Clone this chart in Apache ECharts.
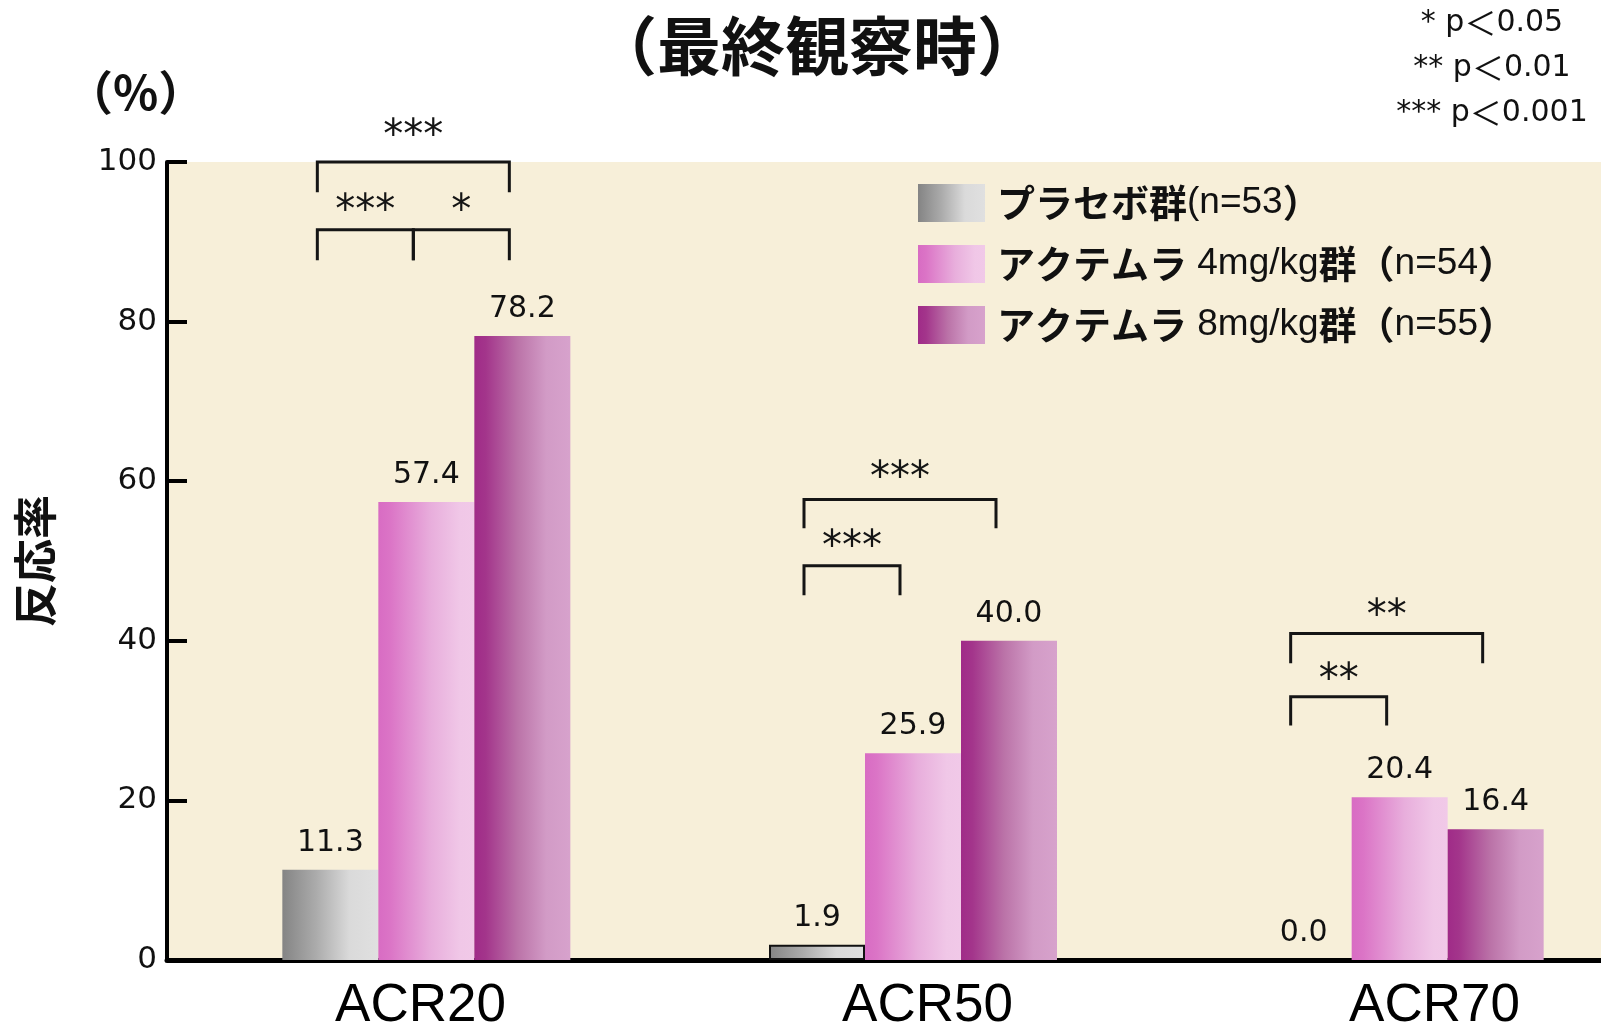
<!DOCTYPE html>
<html>
<head>
<meta charset="utf-8">
<script src="https://cdn.jsdelivr.net/npm/echarts@6/dist/echarts.min.js"></script>
<style>
  html, body { margin: 0; padding: 0; background: #ffffff; }
  #chart { width: 1601px; height: 1032px; }
</style>
</head>
<body>
<div id="chart"></div>
<script>
// ---- data ----
const categories = ['ACR20', 'ACR50', 'ACR70'];
const groupNames = ['プラセボ群(n=53）', 'アクテムラ 4mg/kg群（n=54）', 'アクテムラ 8mg/kg群（n=55）'];
const placeboValues = [11.3, 1.9, 0.0];
const tcz4Values = [57.4, 25.9, 20.4];
const tcz8Values = [78.2, 40.0, 16.4];
const yTicks = [0, 20, 40, 60, 80, 100];
// significance brackets: [category, from group, to group, leg end %, bar %, stars centre %]
const sigBrackets = [
  [0, 0, 2, 96.2, 100.0, 104.3],
  [0, 0, 1, 87.7, 91.5, 94.9],
  [0, 1, 2, 87.7, 91.5, 94.9],
  [1, 0, 2, 54.1, 57.7, 61.4],
  [1, 0, 1, 45.7, 49.4, 52.8],
  [2, 0, 2, 37.2, 40.9, 44.2],
  [2, 0, 1, 29.4, 33.0, 36.2]
];
const sigStars = ['***', '***', '*', '***', '***', '**', '**'];
const pValueStars = ['*', '**', '***'];
const pValueLimits = ['0.05', '0.01', '0.001'];

// ---- styling ----
const BAR_W = 96;
const BRACKET_SHIFT = -13;
const LATIN = '"Liberation Sans", Arial, sans-serif';
const WIDE = '"DejaVu Sans", sans-serif';
const CJK = '"Noto Sans CJK JP", "Noto Sans", sans-serif';

function hGrad(stops) {
  return new echarts.graphic.LinearGradient(0, 0, 1, 0,
    stops.map(s => ({ offset: s[0], color: s[1] })));
}
const fills = [
  hGrad([[0, '#848484'], [0.35, '#ababab'], [0.7, '#dadada'], [1, '#e0e0e0']]),
  hGrad([[0, '#d86cc3'], [0.12, '#db74c6'], [0.55, '#e8aedc'], [0.85, '#f0c7e7'], [1, '#f1c9e8']]),
  hGrad([[0, '#a02b88'], [0.12, '#a3358b'], [0.45, '#bb73a8'], [0.75, '#d29bc6'], [1, '#d7a2cc']])
];

const chart = echarts.init(document.getElementById('chart'), null, { renderer: 'canvas' });

const valueLabel = {
  show: true,
  position: 'top',
  distance: 12,
  color: '#111',
  fontFamily: WIDE,
  fontSize: 30,
  formatter: p => Number(p.value).toFixed(1)
};

function barSeries(idx, values) {
  return {
    type: 'bar',
    name: groupNames[idx],
    xAxisIndex: 1,
    yAxisIndex: 1,
    barWidth: BAR_W,
    barGap: '0%',
    itemStyle: { color: fills[idx] },
    label: valueLabel,
    data: values.map(v => v)
  };
}

const series = [
  barSeries(0, placeboValues),
  barSeries(1, tcz4Values),
  barSeries(2, tcz8Values),
  {
    type: 'custom',
    xAxisIndex: 1,
    yAxisIndex: 1,
    z: 5,
    clip: false,
    encode: { x: 0, y: 4 },
    data: sigBrackets,
    renderItem: (params, api) => {
      const b = sigBrackets[params.dataIndex];
      const c = api.coord([b[0], 0])[0];
      const xa = c + (b[1] - 1) * BAR_W + BRACKET_SHIFT;
      const xb = c + (b[2] - 1) * BAR_W + BRACKET_SHIFT;
      const yTop = api.coord([b[0], b[4]])[1];
      const yLeg = api.coord([b[0], b[3]])[1];
      const yStar = api.coord([b[0], b[5]])[1];
      return {
        type: 'group',
        children: [
          {
            type: 'polyline',
            shape: { points: [[xa, yLeg], [xa, yTop], [xb, yTop], [xb, yLeg]] },
            style: { stroke: '#151515', lineWidth: 3, fill: null }
          },
          {
            type: 'text',
            x: (xa + xb) / 2,
            y: yStar + 10,
            style: {
              text: sigStars[params.dataIndex],
              font: '40px "DejaVu Sans", sans-serif',
              fill: '#151515',
              align: 'center',
              verticalAlign: 'middle'
            }
          }
        ]
      };
    }
  }
];

// placebo ACR50 bar is outlined
series[0].data[1] = { value: placeboValues[1], itemStyle: { borderColor: '#111', borderWidth: 2 } };

const cjkRe = /([\u3000-\u30ff\u4e00-\u9fff\uff00-\uffef]+)/;

chart.setOption({
  backgroundColor: '#ffffff',
  animation: false,
  title: {
    text: '（最終観察時）',
    left: 812,
    top: 9,
    textAlign: 'center',
    textStyle: { fontFamily: CJK, fontWeight: 'bold', fontSize: 64, color: '#111' }
  },
  legend: {
    data: groupNames,
    orient: 'vertical',
    left: 913,
    top: 179,
    icon: 'rect',
    itemWidth: 67,
    itemHeight: 38,
    itemGap: 23,
    selectedMode: false,
    formatter: name => name.split(cjkRe).filter(s => s).map(s =>
      cjkRe.test(s) ? '{j|' + s + '}' : '{l|' + s + '}').join(''),
    textStyle: {
      padding: [0, 0, 0, 7],
      rich: {
        j: { fontFamily: CJK, fontWeight: 'bold', fontSize: 38, color: '#111', lineHeight: 38 },
        l: { fontFamily: LATIN, fontSize: 37, color: '#111', lineHeight: 38 }
      }
    }
  },
  grid: [
    { left: 167, right: -87, top: 162, bottom: 72, show: true, backgroundColor: '#f7efd9', borderWidth: 0, outerBoundsMode: 'none', containLabel: false },
    { left: 183, right: -42, top: 162, bottom: 72, outerBoundsMode: 'none', containLabel: false }
  ],
  xAxis: [
    {
      type: 'category',
      gridIndex: 0,
      data: categories,
      axisLine: { show: true, lineStyle: { color: '#000', width: 5 } },
      axisTick: { show: false },
      axisLabel: { color: '#000', fontFamily: LATIN, fontSize: 53, margin: 20 }
    },
    {
      type: 'category',
      gridIndex: 1,
      data: categories,
      show: false
    }
  ],
  yAxis: [
    {
      type: 'value',
      gridIndex: 0,
      min: yTicks[0],
      max: yTicks[yTicks.length - 1],
      interval: yTicks[1] - yTicks[0],
      name: '反応率',
      nameLocation: 'middle',
      nameRotate: 90,
      nameGap: 110,
      nameTextStyle: { fontFamily: CJK, fontWeight: 'bold', fontSize: 44, color: '#111' },
      axisLine: { show: true, lineStyle: { color: '#000', width: 4 } },
      axisTick: { show: true, inside: true, length: 20, lineStyle: { color: '#000', width: 4 } },
      splitLine: { show: false },
      axisLabel: { color: '#111', fontFamily: WIDE, fontSize: 31, margin: 10 }
    },
    {
      type: 'value',
      gridIndex: 1,
      min: yTicks[0],
      max: yTicks[yTicks.length - 1],
      show: false,
      splitLine: { show: false }
    }
  ],
  graphic: [
    {
      type: 'text',
      left: 66,
      top: 69,
      style: { text: '（%）', font: 'bold 47px ' + CJK, fill: '#111' }
    },
    ...pValueStars.map((s, i) => ({
      type: 'text',
      x: 1492,
      y: 23 + i * 45,
      style: {
        text: '{a|' + s + ' p}{b|＜}{a|' + pValueLimits[i] + '}',
        align: 'center',
        verticalAlign: 'middle',
        rich: {
          a: { fontFamily: WIDE, fontSize: 30, fill: '#111' },
          b: { fontFamily: CJK, fontSize: 32, fill: '#111' }
        }
      }
    }))
  ],
  series: series
});
</script>
</body>
</html>
